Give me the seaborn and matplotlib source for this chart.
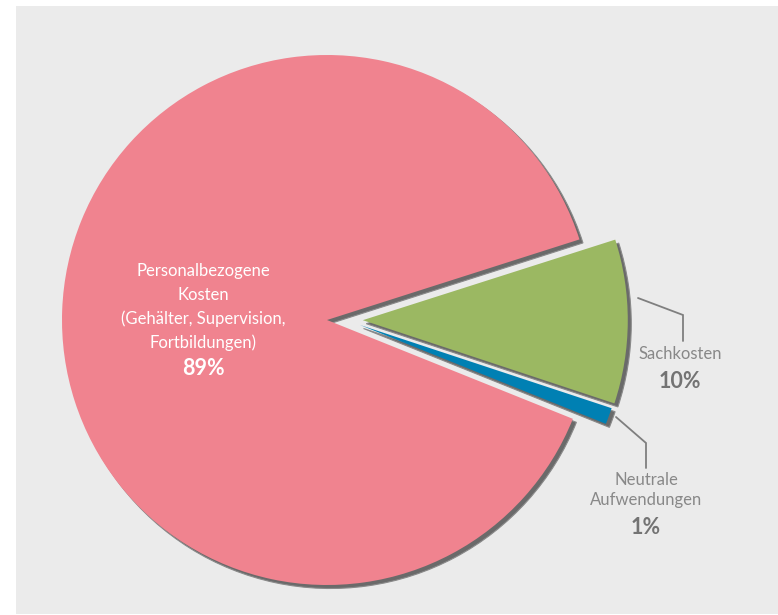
import matplotlib
matplotlib.use("Agg")
import matplotlib.pyplot as plt
import seaborn as sns
from matplotlib.patches import Rectangle

# ---- data ----
categories = ["Personalbezogene\nKosten\n(Gehälter, Supervision,\nFortbildungen)",
              "Neutrale\nAufwendungen",
              "Sachkosten"]
values = [89, 1, 10]
pct_labels = ["89%", "1%", "10%"]
colors = ["#f0838f", "#0080b3", "#9bb862"]

sns.set_style("white")
plt.rcParams['font.family'] = ['Lato', 'DejaVu Sans']

W, H = 778, 615
fig = plt.figure(figsize=(W / 100, H / 100), dpi=100)
fig.patch.set_facecolor("white")
fig.add_artist(Rectangle((16 / W, 1 / H), 1, (H - 7) / H, transform=fig.transFigure,
                         facecolor="#ebebeb", edgecolor="none", zorder=0))

ax = fig.add_axes([0, 0, 1, 1])
ax.patch.set_visible(False)

cx, cy, R = 327, 320, 265.0


def px(x, y):
    return ((x - cx) / R, (cy - y) / R)


explode = [0, 0.13, 0.135]
start = 17.7
sh = 3.5 / R
# the small slice is pulled out less steeply than its bisector in the original
blue_shift = (33 / R, -5 / R)

# shadow
sw, _ = ax.pie(values, explode=explode, startangle=start, colors=["#6a6a6a"] * 3,
               center=(sh, -sh), wedgeprops=dict(linewidth=0.8, edgecolor="#8a8a8a"))
# main pie
mw, _ = ax.pie(values, explode=explode, startangle=start, colors=colors,
               wedgeprops=dict(linewidth=0))
for w, off in ((sw[1], (sh, -sh)), (mw[1], (0, 0))):
    w.set_center((blue_shift[0] + off[0], blue_shift[1] + off[1]))

ax.set_xlim(-cx / R, (W - cx) / R)
ax.set_ylim(-(H - cy) / R, cy / R)
ax.set_aspect('equal')
ax.axis('off')

# inside label (large slice)
x, y = px(203, 307)
ax.text(x, y, categories[0], ha="center", va="center", color="white",
        fontsize=12, linespacing=1.55)
x, y = px(203, 368)
ax.text(x, y, pct_labels[0], ha="center", va="center", color="white",
        fontsize=15.5, fontweight="bold")

gray_line = "#7f7f7f"
# Sachkosten leader + labels
pts = [px(638, 298), px(683, 315), px(683, 341)]
ax.plot([p[0] for p in pts], [p[1] for p in pts], color=gray_line, lw=1.3,
        solid_joinstyle="miter")
x, y = px(680, 354)
ax.text(x, y, categories[2], ha="center", va="center", color="#888888", fontsize=12)
x, y = px(680, 381)
ax.text(x, y, pct_labels[2], ha="center", va="center", color="#737373",
        fontsize=15.5, fontweight="bold")

# Neutrale leader + labels
pts = [px(616, 417), px(646, 443), px(646, 468)]
ax.plot([p[0] for p in pts], [p[1] for p in pts], color=gray_line, lw=1.3,
        solid_joinstyle="miter")
x, y = px(646, 490)
ax.text(x, y, categories[1], ha="center", va="center", color="#888888",
        fontsize=12, linespacing=1.35)
x, y = px(646, 527)
ax.text(x, y, pct_labels[1], ha="center", va="center", color="#737373",
        fontsize=15.5, fontweight="bold")

fig.savefig("out.png", dpi=100, facecolor="white")
